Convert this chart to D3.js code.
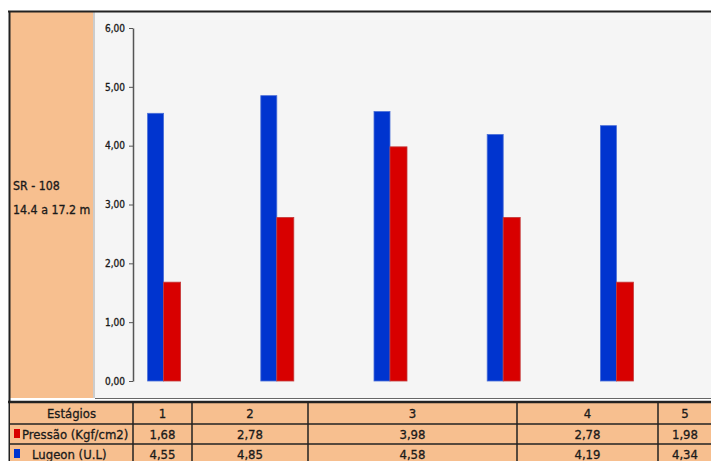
<!DOCTYPE html>
<html>
<head>
<meta charset="utf-8">
<script src="https://cdn.jsdelivr.net/npm/d3@7"></script>
<style>
  body { margin: 0; background: #fff; }
  svg text { font-family: "Liberation Sans Narrow", "DejaVu Sans Condensed", "Liberation Sans", sans-serif; fill: #1a1a1a; }
  .lbl { stroke: #1a1a1a; stroke-width: 0.3; }
</style>
</head>
<body>
<svg id="chart" width="711" height="461"></svg>
<script>
// data
const stages = ["1", "2", "3", "4", "5"];
const pressao = [1.68, 2.78, 3.98, 2.78, 1.68];          // bar heights
const pressaoLabels = ["1,68", "2,78", "3,98", "2,78", "1,98"]; // as printed in the table
const lugeon = [4.55, 4.85, 4.58, 4.19, 4.34];
const lugeonLabels = ["4,55", "4,85", "4,58", "4,19", "4,34"];
const yTicks = [0, 1, 2, 3, 4, 5, 6];
const panelLines = ["SR - 108", "14.4 a 17.2 m"];

const orange = "#f7bf8f", blue = "#0034cf", red = "#d80000";

const svg = d3.select("#chart");

// outer frame + plot background
svg.append("rect").attr("x", 95).attr("y", 12).attr("width", 616).attr("height", 386).attr("fill", "#f5f5f5");
svg.append("rect").attr("x", 10).attr("y", 12).attr("width", 83).attr("height", 386).attr("fill", orange);
svg.append("line").attr("x1", 94).attr("x2", 94).attr("y1", 12).attr("y2", 398).attr("stroke", "#999");
svg.append("line").attr("x1", 8).attr("x2", 711).attr("y1", 11.5).attr("y2", 11.5).attr("stroke", "#222").attr("stroke-width", 2);
svg.append("line").attr("x1", 9.5).attr("x2", 9.5).attr("y1", 11).attr("y2", 461).attr("stroke", "#222").attr("stroke-width", 2);
svg.append("line").attr("x1", 95).attr("x2", 711).attr("y1", 398.5).attr("y2", 398.5).attr("stroke", "#666");

// left panel label
svg.append("g").selectAll("text")
  .data(panelLines)
  .join("text")
    .attr("class", "lbl")
    .attr("x", 13)
    .attr("y", (d, i) => 190 + i * 24)
    .style("font-size", "12.3px")
    .text(d => d);

// scales
const x = d3.scaleBand().domain(stages).range([107, 673]).padding(0);
const y = d3.scaleLinear().domain([0, 6]).range([381, 28]);
const barW = 16;

// y axis
const yAxis = svg.append("g")
  .attr("transform", "translate(133,0)")
  .call(d3.axisLeft(y).tickValues(yTicks).tickSize(4).tickSizeOuter(0).tickPadding(4)
    .tickFormat(d => d3.format(".2f")(d).replace(".", ",")));
yAxis.select(".domain").attr("stroke", "#555").attr("stroke-width", 1.5);
yAxis.selectAll(".tick line").attr("stroke", "#555");
yAxis.selectAll(".tick text").attr("class", "lbl").style("font-size", "10px").attr("fill", "#1a1a1a");

// bars
const cx = d => x(d) + x.bandwidth() / 2;
svg.append("g").selectAll("rect")
  .data(stages)
  .join("rect")
    .attr("x", d => cx(d) - barW)
    .attr("y", (d, i) => y(lugeon[i]))
    .attr("width", barW)
    .attr("height", (d, i) => y(0) - y(lugeon[i]))
    .attr("fill", blue)
    .attr("stroke", "#4a6fd8").attr("stroke-width", 0.8);
svg.append("g").selectAll("rect")
  .data(stages)
  .join("rect")
    .attr("x", d => cx(d))
    .attr("y", (d, i) => y(pressao[i]))
    .attr("width", barW + 1)
    .attr("height", (d, i) => y(0) - y(pressao[i]))
    .attr("fill", red)
    .attr("stroke", "#c43a3a").attr("stroke-width", 0.8);

// data table
const colEdges = [10, 133, 192, 308, 517, 658, 712];
const rowEdges = [403, 424, 444, 465];
const tableRows = [
  ["Estágios"].concat(stages),
  ["Pressão (Kgf/cm2)"].concat(pressaoLabels),
  ["Lugeon (U.L)"].concat(lugeonLabels)
];
const markers = [null, red, blue];

const table = svg.append("g");
table.append("rect").attr("x", 10).attr("y", 403).attr("width", 701).attr("height", 58).attr("fill", orange);

tableRows.forEach((row, r) => {
  row.forEach((txt, c) => {
    const x0 = colEdges[c], x1 = colEdges[c + 1];
    const ty = (rowEdges[r] + rowEdges[r + 1]) / 2 + 4.5;
    if (c === 0 && markers[r]) {
      table.append("rect").attr("x", 14).attr("y", rowEdges[r] + 5).attr("width", 6).attr("height", 9).attr("fill", markers[r]);
      table.append("text")
        .attr("class", "lbl")
        .attr("x", r === 1 ? 22 : 32).attr("y", ty)
        .style("font-size", "13px")
        .text(txt);
    } else {
      table.append("text")
        .attr("class", "lbl")
        .attr("x", (x0 + x1) / 2).attr("y", ty)
        .attr("text-anchor", "middle")
        .style("font-size", "13px")
        .text(txt);
    }
  });
});

// grid lines of the table
table.selectAll("line.v")
  .data(colEdges.slice(1, -1))
  .join("line")
    .attr("x1", d => d).attr("x2", d => d)
    .attr("y1", 403).attr("y2", 461)
    .attr("stroke", "#222").attr("stroke-width", 1.5);
table.selectAll("line.h")
  .data(rowEdges.slice(1, -1))
  .join("line")
    .attr("x1", 10).attr("x2", 711)
    .attr("y1", d => d).attr("y2", d => d)
    .attr("stroke", "#222").attr("stroke-width", 1.5);
table.append("line").attr("x1", 8).attr("x2", 711).attr("y1", 402).attr("y2", 402).attr("stroke", "#222").attr("stroke-width", 2.5);
</script>
</body>
</html>
